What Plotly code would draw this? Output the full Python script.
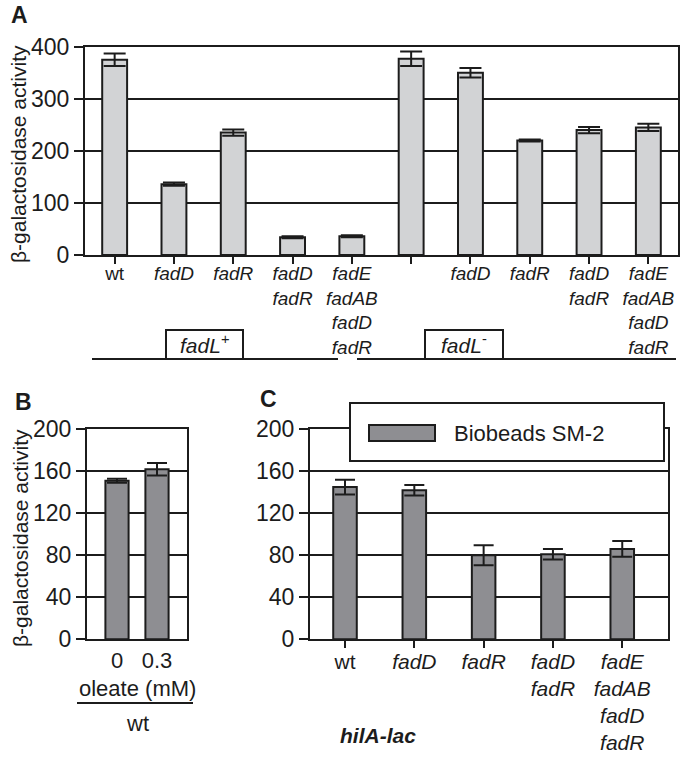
import plotly.graph_objects as go

W, H = 680, 761
FONT = "Liberation Sans, Arial, sans-serif"
INK = "#1c1c1c"

# ---------------- data ----------------
a_labels = ["wt", "<i>fadD</i>", "<i>fadR</i>", "<i>fadD</i><br><i>fadR</i>",
            "<i>fadE</i><br><i>fadAB</i><br><i>fadD</i><br><i>fadR</i>",
            " ", "<i>fadD</i>", "<i>fadR</i>", "<i>fadD</i><br><i>fadR</i>",
            "<i>fadE</i><br><i>fadAB</i><br><i>fadD</i><br><i>fadR</i>"]
a_values = [375, 136, 235, 34, 36, 377, 350, 220, 240, 245]
a_errors = [12, 3, 6, 2, 2, 14, 9, 2, 6, 7]
a_yticks = [0, 100, 200, 300, 400]

b_labels = ["0", "0.3"]
b_values = [151, 162]
b_errors = [2, 6]
b_yticks = [0, 40, 80, 120, 160, 200]

c_labels = ["wt", "<i>fadD</i>", "<i>fadR</i>", "<i>fadD</i><br><i>fadR</i>",
            "<i>fadE</i><br><i>fadAB</i><br><i>fadD</i><br><i>fadR</i>"]
c_values = [145, 142, 80, 81, 86]
c_errors = [7, 5, 9.5, 5, 7.5]
c_yticks = [0, 40, 80, 120, 160, 200]
c_series = "Biobeads SM-2"

LIGHT = "#d2d3d5"
DARK = "#8e8e92"


def px(x):
    return x / W


def py(y):
    return 1 - y / H


fig = go.Figure()

bar_line = dict(color=INK, width=2)
fig.add_trace(go.Bar(
    x=list(range(len(a_values))), y=a_values, width=0.42,
    marker=dict(color=LIGHT, line=bar_line),
    error_y=dict(type="data", array=a_errors, color=INK, thickness=2, width=11),
    xaxis="x", yaxis="y", showlegend=False, hoverinfo="skip"))

fig.add_trace(go.Bar(
    x=list(range(len(b_values))), y=b_values, width=0.58,
    marker=dict(color=DARK, line=bar_line),
    error_y=dict(type="data", array=b_errors, color=INK, thickness=2, width=10),
    xaxis="x2", yaxis="y2", showlegend=False, hoverinfo="skip"))

fig.add_trace(go.Bar(
    x=list(range(len(c_values))), y=c_values, width=0.34, name=c_series,
    marker=dict(color=DARK, line=bar_line),
    error_y=dict(type="data", array=c_errors, color=INK, thickness=2, width=10),
    xaxis="x3", yaxis="y3", showlegend=False, hoverinfo="skip"))

ax_common = dict(showline=True, linecolor=INK, linewidth=2, mirror=True,
                 zeroline=False, color=INK, automargin=False)

fig.update_layout(
    width=W, height=H, autosize=False,
    margin=dict(l=0, r=0, t=0, b=0, pad=0, autoexpand=False),
    paper_bgcolor="white", plot_bgcolor="white",
    font=dict(family=FONT, color=INK),
    showlegend=False,
    xaxis=dict(domain=[px(85), px(678)], range=[-0.5, 9.5],
               tickvals=list(range(len(a_labels))), ticktext=a_labels,
               ticks="outside", ticklen=7, tickwidth=2, tickcolor=INK,
               ticklabelstandoff=-7,
               showgrid=False, tickfont=dict(size=19), anchor="y", **ax_common),
    yaxis=dict(domain=[py(255), py(46.7)], range=[0, 400], tickvals=a_yticks,
               ticks="outside", ticklen=9, tickwidth=2, tickcolor=INK,
               showgrid=True, gridcolor=INK, gridwidth=2,
               tickfont=dict(size=23), anchor="x", **ax_common),
    xaxis2=dict(domain=[px(87), px(187)], range=[-0.75, 1.75],
                tickvals=list(range(len(b_labels))), ticktext=b_labels,
                ticks="", showgrid=False, tickfont=dict(size=22), anchor="y2",
                **ax_common),
    yaxis2=dict(domain=[py(639.3), py(429.3)], range=[0, 200], tickvals=b_yticks,
                ticks="outside", ticklen=9, tickwidth=2, tickcolor=INK,
                showgrid=True, gridcolor=INK, gridwidth=2,
                tickfont=dict(size=23), anchor="x2", **ax_common),
    xaxis3=dict(domain=[px(310), px(668)], range=[-0.505, 4.66],
                tickvals=list(range(len(c_labels))), ticktext=c_labels,
                ticks="outside", ticklen=7, tickwidth=2, tickcolor=INK,
                ticklabelstandoff=-5,
                showgrid=False, tickfont=dict(size=21), anchor="y3", **ax_common),
    yaxis3=dict(domain=[py(639.3), py(429.3)], range=[0, 200], tickvals=c_yticks,
                ticks="outside", ticklen=9, tickwidth=2, tickcolor=INK,
                showgrid=True, gridcolor=INK, gridwidth=2,
                tickfont=dict(size=23), anchor="x3", **ax_common),
)

ann = []


def text(x, y, s, size, **kw):
    d = dict(x=px(x), y=py(y), xref="paper", yref="paper", text=s,
             showarrow=False, xanchor="center", yanchor="middle",
             font=dict(size=size, color=INK, family=FONT))
    d.update(kw)
    ann.append(d)


text(19, 15, "<b>A</b>", 23)
text(23, 402, "<b>B</b>", 23)
text(268, 399, "<b>C</b>", 23)
text(18, 154, "β-galactosidase activity", 21, textangle=-90)
text(20, 538, "β-galactosidase activity", 21, textangle=-90)
text(204, 344, "<i>fadL</i><sup>+</sup>", 21)
text(464, 344, "<i>fadL</i><sup>-</sup>", 21)
text(137, 688, "oleate (mM)", 22)
text(137, 723, "wt", 22)
text(378, 735, "<b><i>hilA-lac</i></b>", 21)
# legend label
text(452, 433, c_series, 22, xanchor="left")

shapes = []


def rect(x0, y0, x1, y1, fill="rgba(0,0,0,0)", layer="above"):
    shapes.append(dict(type="rect", xref="paper", yref="paper",
                       x0=px(x0), x1=px(x1), y0=py(y0), y1=py(y1),
                       line=dict(color=INK, width=2), fillcolor=fill, layer=layer))


def hline(x0, x1, y):
    shapes.append(dict(type="line", xref="paper", yref="paper",
                       x0=px(x0), x1=px(x1), y0=py(y), y1=py(y),
                       line=dict(color=INK, width=2)))


rect(166, 330, 243, 359, fill="white")
hline(92, 338, 359)
rect(425, 330, 503, 359, fill="white")
hline(357, 676, 359)
hline(77, 193, 703)
# legend box and swatch
rect(350, 403, 664, 461, fill="white")
rect(369, 425, 435, 441, fill=DARK)

fig.update_layout(annotations=ann, shapes=shapes)

fig.write_html("out.html", config={"displayModeBar": False},
               post_script="document.body.style.margin='0';")
